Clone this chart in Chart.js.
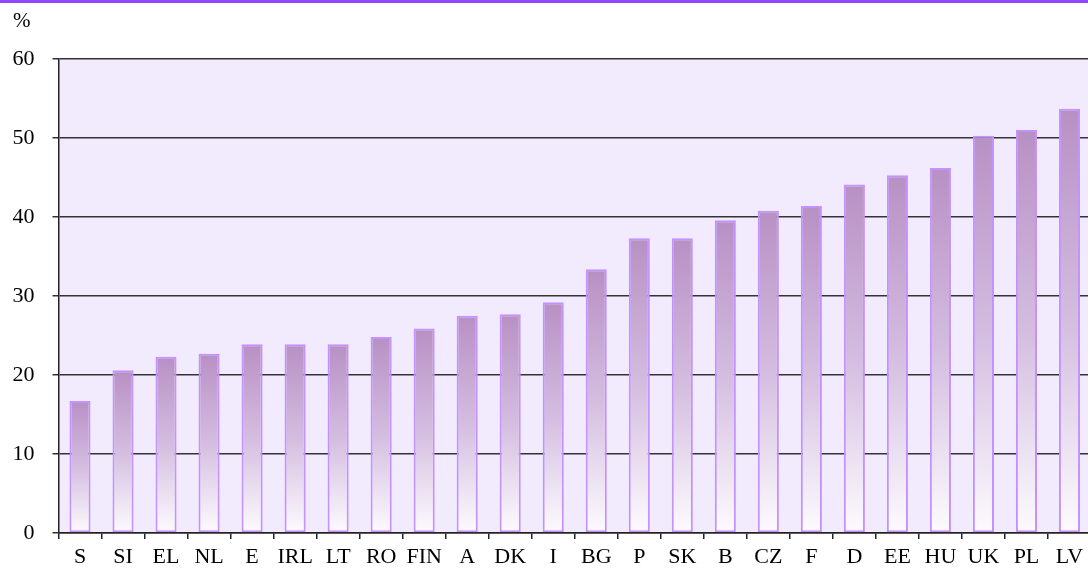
<!DOCTYPE html>
<html>
<head>
<meta charset="utf-8">
<script src="https://cdn.jsdelivr.net/npm/chart.js@4.4.0/dist/chart.umd.min.js"></script>
<style>
  html, body { margin: 0; padding: 0; background: #fff; overflow: hidden; }
  #band { position: absolute; left: 0; top: 0; width: 1088px; height: 3px; background: #9146ff; }
  #wrap { position: absolute; left: 0; top: 0; width: 1091px; height: 571px; }
</style>
</head>
<body>
<div id="wrap"><canvas id="chart" width="1091" height="571"></canvas></div>
<div id="band"></div>
<script>
// country codes, in ascending order of share
var countries = ["S", "SI", "EL", "NL", "E", "IRL", "LT", "RO", "FIN", "A", "DK", "I",
                 "BG", "P", "SK", "B", "CZ", "F", "D", "EE", "HU", "UK", "PL", "LV"];
// share, %
var shares = [16.7, 20.6, 22.3, 22.7, 23.9, 23.9, 23.9, 24.8, 25.9, 27.5, 27.7, 29.2,
              33.4, 37.3, 37.3, 39.6, 40.8, 41.4, 44.1, 45.3, 46.2, 50.3, 51.0, 53.7];
var yTicks = [0, 10, 20, 30, 40, 50, 60];
var unitLabel = "%";

var serif = "'Liberation Serif', 'DejaVu Serif', serif";

/* fill the plot area and write the unit label */
var plotBg = {
    id: "plotBg",
    beforeDraw: function (chart) {
        var a = chart.chartArea;
        var ctx = chart.ctx;
        ctx.save();
        ctx.fillStyle = "#f2ebfe";
        ctx.fillRect(a.left, a.top, a.right - a.left, a.bottom - a.top);
        ctx.restore();
    },
    afterDraw: function (chart) {
        var ctx = chart.ctx;
        ctx.save();
        ctx.font = "21px " + serif;
        ctx.fillStyle = "#000";
        ctx.textAlign = "left";
        ctx.textBaseline = "middle";
        ctx.fillText(unitLabel, 13, 21);
        ctx.restore();
    }
};

// each bar fades from lilac at its top to white at the axis
function barFill(context) {
    var chart = context.chart;
    var y = chart.scales.y;
    if (!y || !chart.chartArea) {
        return "#c9a9d4";
    }
    var top = y.getPixelForValue(context.raw);
    var bottom = y.getPixelForValue(0);
    var g = chart.ctx.createLinearGradient(0, top, 0, bottom);
    g.addColorStop(0, "#b890c4");
    g.addColorStop(0.5, "#d4bde0");
    g.addColorStop(1, "#fdfbfe");
    return g;
}

var ctx = document.getElementById("chart");
var myChart = new Chart(ctx, {
    type: "bar",
    data: {
        labels: countries,
        datasets: [{
            label: "%",
            data: shares,
            backgroundColor: barFill,
            borderColor: "#c293ff",
            borderWidth: 2,
            borderSkipped: false,
            barPercentage: 0.49,
            categoryPercentage: 1.0
        }]
    },
    options: {
        responsive: false,
        animation: false,
        maintainAspectRatio: false,
        layout: { padding: { top: 59, left: 0, right: 0, bottom: 0 } },
        plugins: {
            legend: { display: false },
            tooltip: { enabled: false }
        },
        scales: {
            x: {
                afterFit: function (axis) { axis.height = 38; },
                grid: {
                    display: true,
                    drawOnChartArea: false,
                    drawTicks: true,
                    tickLength: 6,
                    color: "#222",
                    lineWidth: 1.5,
                    offset: true
                },
                border: { display: true, color: "#222", width: 1.5 },
                ticks: {
                    color: "#000",
                    font: { family: serif, size: 22 },
                    padding: 5,
                    maxRotation: 0,
                    autoSkip: false
                }
            },
            y: {
                min: 0,
                max: 60,
                afterFit: function (axis) { axis.width = 58.5; },
                afterBuildTicks: function (axis) {
                    axis.ticks = yTicks.map(function (v) { return { value: v }; });
                },
                grid: {
                    color: "#333",
                    lineWidth: 1.5,
                    drawTicks: true,
                    tickLength: 6
                },
                border: { display: true, color: "#222", width: 1.5 },
                ticks: {
                    color: "#000",
                    font: { family: serif, size: 22 },
                    padding: 18
                }
            }
        }
    },
    plugins: [plotBg]
});
</script>
</body>
</html>
